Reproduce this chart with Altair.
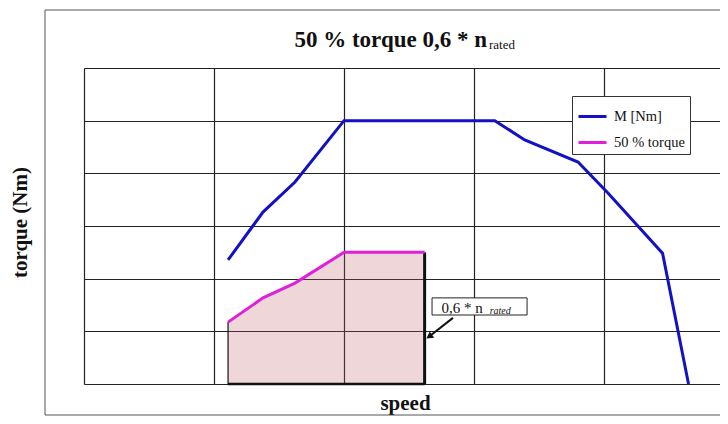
import altair as alt
import pandas as pd

# ---- data ----
speed_m = [1.108, 1.377, 1.623, 2.0, 3.16, 3.39, 3.80, 4.03, 4.45, 4.65]
torque_m = [47.1, 65.3, 76.7, 100, 100, 92.7, 84.3, 72.5, 49.7, 0]
speed_half = [1.108, 1.377, 1.623, 2.0, 2.62]
torque_half = [23.5, 32.7, 38.3, 50, 50]
n_06 = 2.62
series = ["M [Nm]", "50 % torque"]
colors = ["#1212c4", "#e020d8"]
x_grid = [0, 1, 2, 3, 4]
y_grid = [0, 20, 40, 60, 80, 100, 120]

SERIF = "Liberation Serif"

lines = pd.concat([
    pd.DataFrame({"speed": speed_m, "torque": torque_m, "series": series[0], "o": range(len(speed_m))}),
    pd.DataFrame({"speed": speed_half, "torque": torque_half, "series": series[1], "o": range(len(speed_half))}),
])
half = pd.DataFrame({"speed": speed_half, "torque": torque_half})

xs = alt.Scale(domain=[0, 4.892], nice=False, zero=False)
ys = alt.Scale(domain=[0, 120], nice=False)

X = lambda f: alt.X(f, type="quantitative", scale=xs,
                    axis=alt.Axis(values=x_grid, labels=False, ticks=False, domain=False,
                                  grid=True, gridColor="#222", gridWidth=1.2,
                                  title="speed", titleFont=SERIF, titleFontSize=21,
                                  titleFontWeight="bold", titleColor="#111",
                                  titleX=321, titleY=25, titleBaseline="alphabetic",
                                  titleAlign="center"))
Y = lambda f: alt.Y(f, type="quantitative", scale=ys,
                    axis=alt.Axis(values=y_grid, labels=False, ticks=False, domain=False,
                                  grid=True, gridColor="#222", gridWidth=1.2,
                                  title="torque (Nm)", titleFont=SERIF, titleFontSize=21,
                                  titleFontWeight="bold", titleColor="#111",
                                  titleX=-64, titleY=154, titleAngle=270,
                                  titleAlign="center", titleBaseline="middle"))

frame = alt.Chart(pd.DataFrame({"a": [0]})).mark_rect(
    fillOpacity=0, stroke="#555", strokeWidth=1
).encode(x=alt.value(-39), x2=alt.value(720), y=alt.value(-58), y2=alt.value(347))

area = alt.Chart(half).mark_area(color="#c0606e", opacity=0.26).encode(
    x=X("speed"), y=Y("torque"))

edges = pd.DataFrame({
    "x": [n_06, speed_half[0], speed_half[0]],
    "x2": [n_06, n_06, speed_half[0]],
    "y": [0, 0, 0],
    "y2": [torque_half[-1], 0, torque_half[0]],
    "w": [3, 2.5, 1.2],
})
edge_rules = alt.Chart(edges).mark_rule(color="#111").encode(
    x="x:Q", x2="x2:Q", y="y:Q", y2="y2:Q",
    strokeWidth=alt.StrokeWidth("w:Q", scale=None))

line = alt.Chart(lines).mark_line(strokeWidth=3).encode(
    x=X("speed"), y=Y("torque"), order="o:Q",
    color=alt.Color("series:N",
                    scale=alt.Scale(domain=series, range=colors),
                    sort=series,
                    legend=alt.Legend(title=None, orient="none", legendX=488, legendY=28,
                                      symbolType="stroke", symbolSize=784,
                                      symbolStrokeWidth=3, labelFont=SERIF,
                                      labelFontSize=14.5, labelColor="#111",
                                      fillColor="white", strokeColor="#333",
                                      padding=5, rowPadding=4, labelOffset=6)))

# annotation box
ann = pd.DataFrame({"x": [2.677], "x2": [3.408], "y": [26.2], "y2": [32.7]})
ann_box = alt.Chart(ann).mark_rect(fill="white", stroke="#222", strokeWidth=1).encode(
    x="x:Q", x2="x2:Q", y="y:Q", y2="y2:Q")
ann_txt = alt.Chart(pd.DataFrame({"x": [2.75], "y": [26.9], "t": ["0,6 * n"]})).mark_text(
    font=SERIF, fontSize=15, align="left", baseline="alphabetic", color="#111").encode(
    x="x:Q", y="y:Q", text="t:N")
ann_sub = alt.Chart(pd.DataFrame({"x": [3.12], "y": [26.4], "t": ["rated"]})).mark_text(
    font=SERIF, fontSize=10, fontStyle="italic", align="left", baseline="alphabetic",
    color="#111").encode(x="x:Q", y="y:Q", text="t:N")
arrow = alt.Chart(pd.DataFrame({"x": [2.838], "y": [25.1], "x2": [2.67], "y2": [18.6]})).mark_rule(
    color="#111", strokeWidth=2).encode(x="x:Q", y="y:Q", x2="x2:Q", y2="y2:Q")
head = alt.Chart(pd.DataFrame({"x": [2.655], "y": [18.0]})).mark_point(
    shape="triangle-up", filled=True, color="#111", size=60, angle=235, opacity=1).encode(
    x="x:Q", y="y:Q")

title1 = alt.Chart(pd.DataFrame({"t": ["50 % torque 0,6 * n"]})).mark_text(
    font=SERIF, fontSize=23, fontWeight="bold", align="right", baseline="alphabetic",
    color="#111").encode(x=alt.value(403), y=alt.value(-21), text="t:N")
title2 = alt.Chart(pd.DataFrame({"t": ["rated"]})).mark_text(
    font=SERIF, fontSize=13, align="left", baseline="alphabetic",
    color="#111").encode(x=alt.value(405), y=alt.value(-19), text="t:N")

chart = alt.layer(
    frame, area, edge_rules, line, arrow, head, ann_box, ann_txt, ann_sub, title1, title2
).properties(
    width=636, height=316,
    padding={"left": 76, "top": 60, "right": 0, "bottom": 32},
    autosize=alt.AutoSizeParams(type="none"),
).configure_view(strokeWidth=0).configure(background="white")

chart.save("out.html", embed_options={"renderer": "svg", "actions": False})
